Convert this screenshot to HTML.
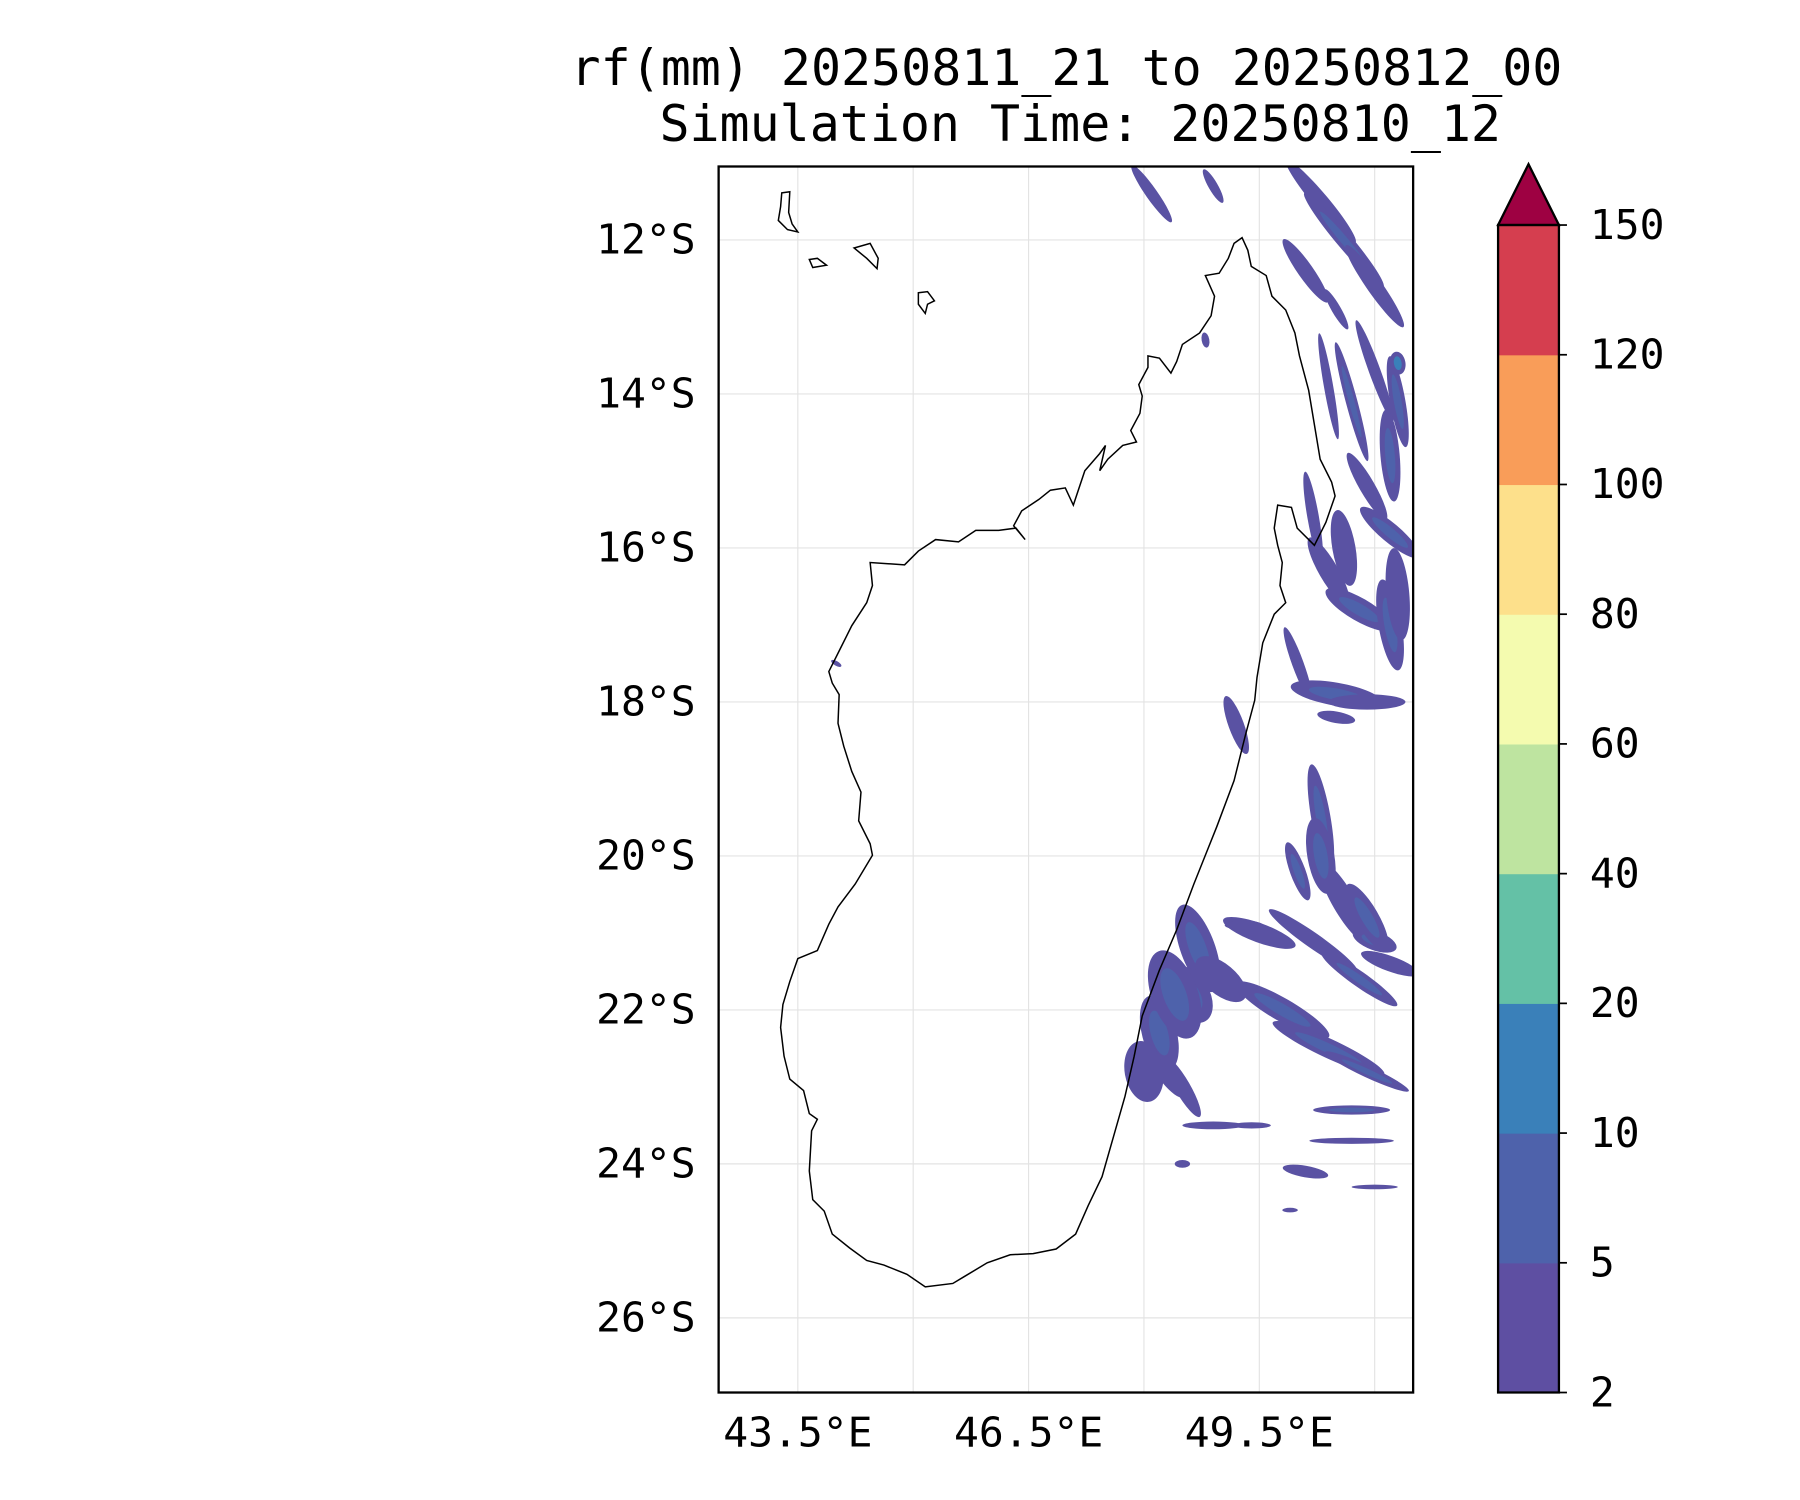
<!DOCTYPE html>
<html><head><meta charset="utf-8"><style>
html,body{margin:0;padding:0;background:#fff;}
svg{display:block;}
text{font-family:"DejaVu Sans Mono","Liberation Mono",monospace;fill:#000;}
</style></head><body>
<svg id="fig" width="1800" height="1500" viewBox="0 0 1568 1306.6" xmlns="http://www.w3.org/2000/svg">
<text x="929" y="74" font-size="43.5" text-anchor="middle">rf(mm) 20250811_21 to 20250812_00</text>
<text x="941" y="123" font-size="43.5" text-anchor="middle">Simulation Time: 20250810_12</text>
<defs><clipPath id="plotclip"><rect x="626" y="145" width="605" height="1068"/></clipPath></defs>
<g id="grid"></g>
<g id="rain" clip-path="url(#plotclip)"></g>
<g fill="none" stroke="#000" stroke-width="1.3" clip-path="url(#plotclip)">
<path d="M1082,207 L1087,218 1090,232 1103,240 1108,258 1120,270 1128,290 1132,310 1140,340 1145,370 1150,400 1160,420 1163,432 1155,455 1145,475 1130,460 1125,442 1113,440 1110,460 1113,475 1117,490 1115,510 1120,525 1110,535 1100,560 1095,590 1093,610 1085,640 1075,680 1060,720 1050,745 1040,770 1025,810 1010,845 995,885 988,920 980,955 970,990 960,1025 948,1050 937,1075 920,1088 900,1092 880,1093 860,1100 840,1112 830,1118 806,1121 790,1110 770,1102 755,1098 740,1087 725,1075 718,1055 708,1045 705,1020 707,985 712,975 705,970 700,950 688,940 683,920 680,895 682,875 688,855 695,835 712,828 722,805 730,790 745,770 760,745 758,735 748,715 750,690 742,672 735,650 730,630 731,605 725,595 722,585 732,565 742,545 755,525 760,510 758,490 788,492 800,480 815,470 835,472 850,462 870,462 885,460 893,470 883,458 890,445 905,435 915,427 928,425 935,440 940,425 945,410 958,395 963,388 958,410 965,400 978,388 990,385 985,375 993,360 995,345 992,335 1000,320 1000,310 1010,312 1020,325 1025,315 1030,300 1045,290 1055,275 1058,258 1050,240 1062,238 1070,225 1075,212 Z"/>
<path d="M681,168 L688,167 687,185 690,195 695,202 686,200 678,192 680,180 Z"/>
<path d="M705,226 L712,225 720,231 708,233 Z"/>
<path d="M744,216 L758,212 765,225 764,234 755,225 Z"/>
<path d="M800,255 L808,254 814,262 808,265 806,273 800,265 Z"/>
</g>
<rect x="626" y="145" width="605" height="1068" fill="none" stroke="#000" stroke-width="2"/>
<g id="axes"></g>
<g id="cbar"></g>
</svg>
<script>
const NS="http://www.w3.org/2000/svg";
const lonTicks=[43.5,46.5,49.5];
const lonTickLabels=["43.5°E","46.5°E","49.5°E"];
const lonGrid=[43.5,45,46.5,48,49.5,51];
const latTicks=[12,14,16,18,20,22,24,26];
const latTickLabels=["12°S","14°S","16°S","18°S","20°S","22°S","24°S","26°S"];
const cbLevels=[2,5,10,20,40,60,80,100,120,150];
const cbColors=["#5e4fa2","#4e62ab","#3a80b9","#64c1a6","#bee4a0","#f4fbaf","#fde08b","#f99d59","#d53e4f"];
const cbExtendColor="#9e0142";
// rain blobs: lon, lat (deg S), length(deg), width(deg), angle(deg), class(0:2-5,1:5-10,2:10-20)
const blobLon=[48.1,48.9,50.3,50.6,51.0,50.5,50.4,50.7,51.0,51.3,50.9,51.2,50.2,50.4,50.8,51.2,50.0,50.5,49.2,50.3,50.6,48.7,49.5,50.2,50.8,51.2,49.8,50.4,48.2,48.5,48.9,50.7,50.7,51.0,48.5,49.9,48.8,44.0,51.3,48.6,50.0,50.9,48.3,49.4,50.1,51.0,50.5,48.4,48.0,49.0,50.9,50.3,50.6,51.2,50.9,49.3,51.3,50.1];
const blobLat=[11.4,11.3,11.5,12.0,12.6,12.9,13.9,14.1,13.7,14.1,15.2,15.8,15.6,16.3,16.8,17.0,17.5,17.9,18.3,19.5,20.6,21.2,21.0,21.1,21.6,21.4,22.0,22.5,22.3,23.0,23.5,23.3,23.7,24.3,24.0,24.6,13.3,17.5,13.6,21.8,20.2,22.8,22.9,23.5,24.1,21.1,18.2,21.8,22.8,21.6,20.8,20.0,16.0,14.8,18.0,20.9,16.6,12.4];
const blobLen=[0.9,0.5,1.4,1.6,1.3,0.6,1.4,1.6,1.4,1.2,1.0,1.0,1.2,1.0,1.0,1.2,1.0,1.2,0.8,1.4,1.2,1.2,1.0,1.4,1.2,0.8,1.4,1.6,1.0,0.9,0.8,1.0,1.1,0.6,0.2,0.2,0.2,0.15,0.3,0.8,0.8,1.2,0.6,0.5,0.6,0.6,0.5,1.2,0.8,0.8,1.0,1.0,1.0,1.2,1.0,0.5,1.2,1.0];
const blobWid=[0.15,0.12,0.2,0.2,0.2,0.12,0.12,0.15,0.15,0.2,0.2,0.25,0.15,0.25,0.3,0.3,0.15,0.3,0.2,0.25,0.3,0.45,0.25,0.2,0.2,0.2,0.3,0.25,0.45,0.2,0.1,0.12,0.08,0.06,0.1,0.06,0.1,0.06,0.2,0.5,0.2,0.15,0.15,0.08,0.15,0.25,0.15,0.6,0.5,0.4,0.3,0.35,0.3,0.25,0.2,0.12,0.3,0.2];
const blobAng=[55,60,50,50,55,60,80,75,70,80,60,40,80,60,30,80,70,10,70,80,60,70,20,35,35,20,30,25,75,60,0,0,0,0,0,0,80,30,80,60,70,25,50,0,10,20,10,70,80,40,60,80,80,85,0,0,85,55];
const blobCls=[0,0,0,1,0,0,0,1,0,1,0,1,0,0,1,1,0,1,0,1,0,1,0,0,1,0,1,1,1,0,0,1,0,0,0,0,0,0,2,1,1,1,0,0,0,1,0,1,0,0,1,1,0,1,0,0,0,0];

function X(lon){return 695+(lon-43.5)*67;}
function Y(lat){return 209+(lat-12)*67.07;}
function mk(tag,attrs,parent){const e=document.createElementNS(NS,tag);for(const k in attrs)e.setAttribute(k,attrs[k]);parent.appendChild(e);return e;}

const grid=document.getElementById('grid');
lonGrid.forEach(l=>{const ln=mk('line',{x1:X(l),x2:X(l),y1:145,y2:1213,stroke:'#e3e3e3','stroke-width':1},grid);

});
latTicks.forEach(l=>{const ln=mk('line',{x1:626,x2:1231,y1:Y(l),y2:Y(l),stroke:'#e3e3e3','stroke-width':1},grid);

});

const rain=document.getElementById('rain');
const clsColor=["#5a52a3","#4e62ab","#3a80b9"];
for(let i=0;i<blobLon.length;i++){
  const cx=X(blobLon[i]),cy=Y(blobLat[i]);
  const e=mk('ellipse',{cx:cx,cy:cy,rx:blobLen[i]*67/2,ry:blobWid[i]*67/2,fill:clsColor[0],transform:`rotate(${blobAng[i]} ${cx} ${cy})`},rain);
  
  
  if(blobCls[i]>0){
    const f=mk('ellipse',{cx:cx,cy:cy,rx:blobLen[i]*67/2*0.6,ry:blobWid[i]*67/2*0.5,fill:clsColor[blobCls[i]],transform:`rotate(${blobAng[i]} ${cx} ${cy})`},rain);
    
    
  }
}

const axes=document.getElementById('axes');
lonTicks.forEach((l,i)=>{const t=mk('text',{x:X(l),y:1260,'font-size':36,'text-anchor':'middle'},axes);t.textContent=lonTickLabels[i];

});
latTicks.forEach((l,i)=>{const t=mk('text',{x:606,y:Y(l)+12,'font-size':36,'text-anchor':'end'},axes);t.textContent=latTickLabels[i];

});

const cbar=document.getElementById('cbar');
const cbX=1305,cbW=53,cbTop=196,cbBot=1213;
const segH=(cbBot-cbTop)/cbColors.length;
function CY(i){return cbBot-i*segH;}
cbColors.forEach((c,i)=>{const r=mk('rect',{x:cbX,y:CY(i+1),width:cbW,height:segH+0.5,fill:c},cbar);

});
const tri=mk('polygon',{points:`${cbX},${cbTop} ${cbX+cbW/2},143 ${cbX+cbW},${cbTop}`,fill:cbExtendColor,stroke:'#000','stroke-width':2},cbar);


const fr=mk('polygon',{points:`${cbX},${cbTop} ${cbX},${cbBot} ${cbX+cbW},${cbBot} ${cbX+cbW},${cbTop}`,fill:'none',stroke:'#000','stroke-width':2},cbar);


cbLevels.forEach((v,i)=>{
  const tk=mk('line',{x1:cbX+cbW,x2:cbX+cbW+7,y1:CY(i),y2:CY(i),stroke:'#000','stroke-width':1.5},cbar);
  
  
  const t=mk('text',{x:1385,y:CY(i)+12,'font-size':36},cbar);t.textContent=v;
  
  
});
</script>
</body></html>
